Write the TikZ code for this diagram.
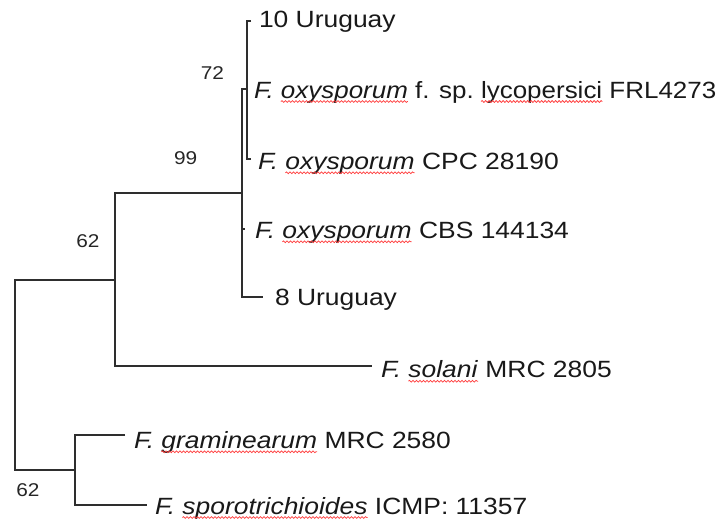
\documentclass[tikz,border=0pt]{standalone}
\usepackage{fontspec}
\setmainfont[FakeStretch=1.125]{Liberation Sans}
\newfontfamily\narrowersans[FakeStretch=1.105]{Liberation Sans}
\usetikzlibrary{decorations.pathmorphing}

% genus abbreviation, underlined epithet, plain remainder
\newcommand\taxlabel[5]{%
  \node[lab] (#1g) at (#2,#3) {\textit{F.}\ \null};
  \node[lab] (#1e) at (#1g.base east) {\textit{#4}};
  \draw[squig] ([yshift=-3.5pt]#1e.base west) -- ([yshift=-3.5pt]#1e.base east);
  \node[lab] (#1r) at (#1e.base east) {\ #5};
}

\begin{document}
\begin{tikzpicture}[x=1pt,y=-1pt,
  branch/.style={draw=black!82,line width=1.2pt,line join=miter},
  lab/.style={inner sep=0pt,outer sep=0pt,anchor=base west,
    font=\fontsize{23.5}{28}\selectfont,text=black!90},
  lablong/.style={lab,font=\narrowersans\fontsize{23.5}{28}\selectfont},
  boot/.style={inner sep=0pt,font=\fontsize{18.5}{22}\selectfont,text=black!85},
  squig/.style={draw=red!75,line width=0.75pt,
    decorate,decoration={snake,segment length=3.5pt,amplitude=0.9pt}}]
\useasboundingbox[fill=white] (0,0) rectangle (724,520);

% internal nodes
\coordinate (R) at (15,375);
\coordinate (A) at (115,280);
\coordinate (B) at (75,470);
\coordinate (O) at (242,193);
\coordinate (C) at (247,89);
% tips
\coordinate (t10) at (251,21);
\coordinate (tcpc) at (251,159);
\coordinate (tcbs) at (245,229);
\coordinate (t8) at (263,297);
\coordinate (tsol) at (372,366);
\coordinate (tgra) at (125,435);
\coordinate (tspo) at (147,505);

% branches
\draw[branch] (A) -| (R) |- (B);
\draw[branch] (O) -| (A) |- (tsol);
\draw[branch] (C) -| (O) |- (t8);
\draw[branch] (O |- tcbs) -- (tcbs);
\draw[branch] (t10) -| (C) |- (tcpc);
\draw[branch] (tgra) -| (B) |- (tspo);

% bootstrap values
\node[boot] (b72) at (212.5,73.3) {72};
\node[boot] (b99) at (185.7,158.3) {99};
\node[boot] (b62a) at (88,241) {62};
\node[boot] (b62b) at (28,490) {62};

% tip labels
\node[lab] (l10) at (259,27) {10 Uruguay};
\node[lablong] (lyg) at (254,98) {\textit{F.}\ \null};
\node[lablong] (lye) at (lyg.base east) {\textit{oxysporum}};
\draw[squig] ([yshift=-3.5pt]lye.base west) -- ([yshift=-3.5pt]lye.base east);
\node[lablong] (lym) at (lye.base east) {\ f. sp.\ \null};
\node[lablong] (lyl) at (lym.base east) {lycopersici};
\draw[squig] ([yshift=-3.5pt]lyl.base west) -- ([yshift=-3.5pt]lyl.base east);
\node[lablong] (lyr) at (lyl.base east) {\ FRL4273};
\taxlabel{cpc}{258}{169.3}{oxysporum}{CPC 28190}
\taxlabel{cbs}{255}{238.3}{oxysporum}{CBS 144134}
\node[lab] (l8) at (275,305) {8 Uruguay};
\taxlabel{sol}{381}{377.7}{solani}{MRC 2805}
\taxlabel{gra}{134}{448.3}{graminearum}{MRC 2580}
\taxlabel{spo}{155}{514}{sporotrichioides}{ICMP: 11357}
\end{tikzpicture}
\end{document}
